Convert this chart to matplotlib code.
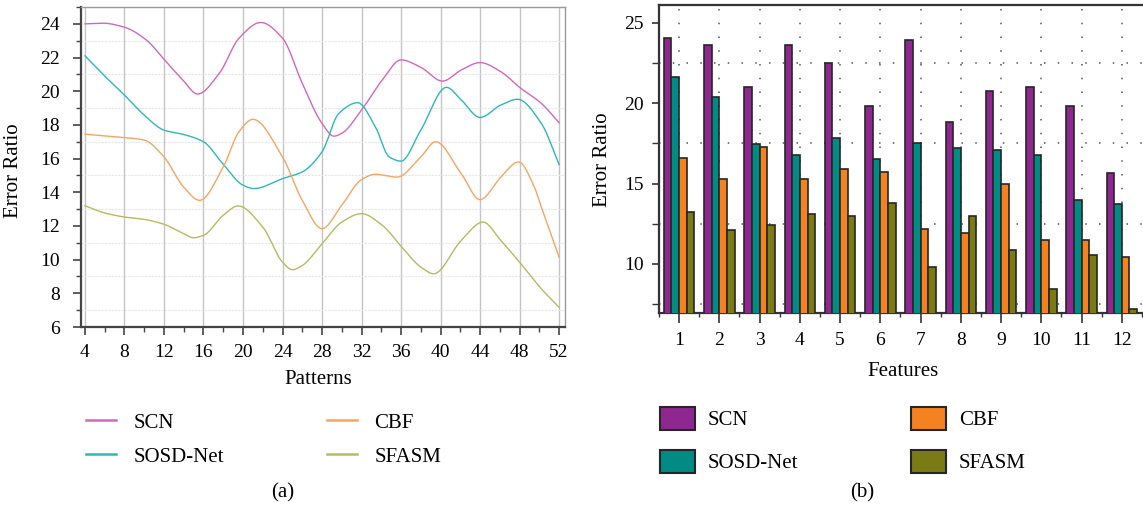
import numpy as np
import matplotlib
matplotlib.use("Agg")
import matplotlib.pyplot as plt
from matplotlib.lines import Line2D
from matplotlib.patches import Patch
from matplotlib.ticker import MultipleLocator

plt.rcParams['font.family'] = ['Liberation Serif', 'DejaVu Serif']

# ---------------- data: panel (a) ----------------
series_names = ["SCN", "SOSD-Net", "CBF", "SFASM"]

scn_x = [4, 5.8, 8, 10.2, 12, 13.9, 15.4, 17.6, 19.6, 21.8, 24, 26, 28, 29.2, 30, 32, 34.1, 36, 38, 40.2, 42.1, 44, 46.1, 48, 50.2, 52]
scn_y = [24.0, 24.04, 23.8, 23.05, 21.9, 20.67, 19.83, 21.06, 23.15, 24.08, 23.15, 20.47, 18.09, 17.33, 17.5, 18.88, 20.67, 21.86, 21.42, 20.6, 21.26, 21.7, 21.16, 20.23, 19.28, 18.13]

sosd_x = [4, 6, 8, 10, 12, 14, 16, 17.95, 20, 21.1, 24, 26, 28, 29.7, 31.6, 33.4, 34.8, 36, 38, 40.6, 42.1, 44, 46.1, 47.8, 50.2, 52]
sosd_y = [22.1, 20.9, 19.77, 18.58, 17.69, 17.43, 17.0, 15.7, 14.42, 14.22, 14.81, 15.21, 16.4, 18.68, 19.32, 17.89, 16.1, 15.85, 17.69, 20.23, 19.48, 18.44, 19.18, 19.52, 18.09, 15.65]

cbf_x = [4, 8, 10, 12, 14, 15.6, 18, 19.6, 21, 24, 26, 28, 30, 32, 33.4, 35.6, 38, 39.5, 42.1, 44, 46.1, 47.9, 49.5, 50.2, 52]
cbf_y = [17.45, 17.25, 17.1, 16.1, 14.3, 13.52, 15.5, 17.6, 18.33, 16.1, 13.52, 11.84, 13.23, 14.75, 15.07, 14.9, 16.1, 17.0, 15.1, 13.56, 14.9, 15.8, 14.3, 13.13, 10.15]

sfasm_x = [4, 6, 8, 10, 12, 14, 15, 16, 18, 19.5, 22, 24, 25, 26, 28, 30, 32, 34.1, 36, 38, 39.3, 42.1, 44.3, 46.1, 48, 50.2, 52]
sfasm_y = [13.2, 12.77, 12.53, 12.39, 12.1, 11.54, 11.3, 11.44, 12.63, 13.19, 11.94, 9.85, 9.4, 9.65, 10.94, 12.23, 12.73, 12.04, 10.8, 9.56, 9.16, 11.14, 12.23, 11.14, 9.85, 8.27, 7.17]

pattern_ticks = [4, 8, 12, 16, 20, 24, 28, 32, 36, 40, 44, 48, 52]

# ---------------- data: panel (b) ----------------
features = [1, 2, 3, 4, 5, 6, 7, 8, 9, 10, 11, 12]
bar_scn = [24.07, 23.6, 21.0, 23.6, 22.5, 19.8, 23.9, 18.85, 20.74, 20.99, 19.8, 15.66]
bar_sosd = [21.6, 20.4, 17.47, 16.75, 17.86, 16.5, 17.53, 17.18, 17.08, 16.75, 14.0, 13.75]
bar_cbf = [16.6, 15.3, 17.28, 15.3, 15.93, 15.7, 12.16, 11.91, 15.0, 11.46, 11.46, 10.43]
bar_sfasm = [13.2, 12.14, 12.43, 13.1, 13.0, 13.77, 9.8, 13.0, 10.86, 8.46, 10.53, 7.2]

line_colors = ["#d467bb", "#2db8b8", "#f8a462", "#b7ba62"]
bar_colors = ["#8e278f", "#008b84", "#f58220", "#7b7b16"]


def smooth(xk, yk, n=600):
    """Monotone piecewise cubic (PCHIP) curve through the knots, for drawing."""
    x = np.asarray(xk, float)
    y = np.asarray(yk, float)
    h = np.diff(x)
    d = np.diff(y) / h
    m = np.zeros_like(y)
    for k in range(1, len(x) - 1):
        if d[k - 1] * d[k] <= 0:
            m[k] = 0.0
        else:
            w1 = 2 * h[k] + h[k - 1]
            w2 = h[k] + 2 * h[k - 1]
            m[k] = (w1 + w2) / (w1 / d[k - 1] + w2 / d[k])
    m[0] = d[0]
    m[-1] = d[-1]
    xs = np.linspace(x[0], x[-1], n)
    idx = np.clip(np.searchsorted(x, xs) - 1, 0, len(h) - 1)
    t = (xs - x[idx]) / h[idx]
    h00 = 2 * t**3 - 3 * t**2 + 1
    h10 = t**3 - 2 * t**2 + t
    h01 = -2 * t**3 + 3 * t**2
    h11 = t**3 - t**2
    ys = h00 * y[idx] + h10 * h[idx] * m[idx] + h01 * y[idx + 1] + h11 * h[idx] * m[idx + 1]
    return xs, ys


W, H = 1143, 512
fig = plt.figure(figsize=(W / 100, H / 100), dpi=100)

tick_fs = 14
label_fs = 15
leg_fs = 15

# ---------------- panel (a) ----------------
ax1 = fig.add_axes([81 / W, 1 - 327 / H, (565 - 81) / W, (327 - 7) / H])
for (xk, yk), c in zip([(scn_x, scn_y), (sosd_x, sosd_y), (cbf_x, cbf_y), (sfasm_x, sfasm_y)], line_colors):
    xs, ys = smooth(xk, yk)
    ax1.plot(xs, ys, color=c, lw=1.0, zorder=3)

ax1.set_xlim(3.6, 52.6)
ax1.set_ylim(6, 25)
ax1.set_xticks(pattern_ticks)
ax1.xaxis.set_minor_locator(MultipleLocator(2))
ax1.yaxis.set_major_locator(MultipleLocator(2))
ax1.yaxis.set_minor_locator(MultipleLocator(1))
ax1.grid(True, which='major', axis='x', color='#c4c4c4', lw=1.0, zorder=0)
ax1.grid(True, which='minor', axis='y', color='#e6e6e6', lw=0.8, ls=(0, (2, 1)), zorder=0)
ax1.set_axisbelow(True)
for s in ['left', 'bottom']:
    ax1.spines[s].set_color('#444444')
    ax1.spines[s].set_linewidth(1.6)
for s in ['top', 'right']:
    ax1.spines[s].set_color('#9a9a9a')
    ax1.spines[s].set_linewidth(1.0)
ax1.tick_params(axis='x', which='major', direction='out', length=6, width=1.2,
                color='#444444', labelsize=tick_fs, pad=6)
ax1.tick_params(axis='y', which='major', direction='out', length=6, width=1.2,
                color='#444444', labelsize=tick_fs, pad=9)
ax1.tick_params(axis='both', which='minor', direction='out', length=3.5, width=1.0, color='#444444')
ax1.set_xlabel("Patterns", fontsize=label_fs)
ax1.set_ylabel("Error Ratio", fontsize=label_fs)
ax1.yaxis.set_label_coords(-0.12, 0.49)
ax1.xaxis.set_label_coords(0.49, -0.135)

handles1 = [Line2D([], [], color=c, lw=1.8) for c in line_colors]
ax1.legend(handles1, series_names, ncol=2, frameon=False, fontsize=leg_fs,
           loc='upper left', bbox_to_anchor=(86 / W, 1 - 413 / H), bbox_transform=fig.transFigure,
           borderpad=0, borderaxespad=0, handlelength=1.45, handletextpad=0.85,
           columnspacing=4.9, labelspacing=0.7)

# ---------------- panel (b) ----------------
ax2 = fig.add_axes([659 / W, 1 - 313 / H, (1146 - 659) / W, (313 - 5) / H])
bw = 0.19
xpos = np.array(features, float)
for i, (vals, c) in enumerate(zip([bar_scn, bar_sosd, bar_cbf, bar_sfasm], bar_colors)):
    ax2.bar(xpos + (i - 1.5) * bw, vals, width=bw, color=c, edgecolor='#262626',
            linewidth=1.2, zorder=3)
ax2.set_xlim(0.5, 12.6)
ax2.set_ylim(6.95, 26.1)
ax2.set_xticks(features)
ax2.xaxis.set_minor_locator(MultipleLocator(0.5))
ax2.yaxis.set_major_locator(MultipleLocator(5))
ax2.yaxis.set_minor_locator(MultipleLocator(2.5))
ax2.grid(True, which='major', axis='x', color='#555555', lw=1.1, ls=(0, (1, 8)), zorder=0)
ax2.grid(True, which='minor', axis='y', color='#555555', lw=1.1, ls=(0, (1, 8)), zorder=0)
ax2.set_axisbelow(True)
for s in ['left', 'bottom', 'top', 'right']:
    ax2.spines[s].set_color('#333333')
    ax2.spines[s].set_linewidth(1.6)
ax2.tick_params(axis='x', which='major', direction='out', length=7, width=1.2,
                color='#333333', labelsize=tick_fs, pad=7)
ax2.tick_params(axis='x', which='minor', direction='out', length=3, width=1.0, color='#333333')
ax2.tick_params(axis='y', which='major', direction='out', length=5, width=1.2,
                color='#333333', labelsize=tick_fs, pad=6)
ax2.tick_params(axis='y', which='minor', direction='out', length=5, width=1.0, color='#333333')
ax2.set_xlabel("Features", fontsize=label_fs)
ax2.set_ylabel("Error Ratio", fontsize=label_fs)
ax2.yaxis.set_label_coords(-0.097, 0.497)
ax2.xaxis.set_label_coords(0.5, -0.16)

handles2 = [Patch(facecolor=c, edgecolor='#262626', linewidth=1.5) for c in bar_colors]
ax2.legend(handles2, series_names, ncol=2, frameon=False, fontsize=leg_fs,
           loc='upper left', bbox_to_anchor=(660 / W, 1 - 407 / H), bbox_transform=fig.transFigure,
           borderpad=0, borderaxespad=0, handlelength=1.7, handleheight=1.3, handletextpad=0.6,
           columnspacing=5.4, labelspacing=0.95)

fig.text(283 / W, 1 - 493 / H, "(a)", ha='center', va='center', fontsize=label_fs)
fig.text(862 / W, 1 - 493 / H, "(b)", ha='center', va='center', fontsize=label_fs)

fig.savefig("out.png", dpi=100)
